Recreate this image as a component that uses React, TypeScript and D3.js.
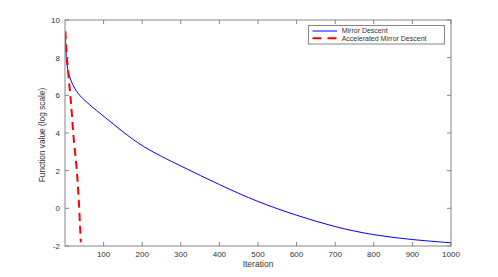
import React from "react";
import * as d3 from "d3";

const mdIter = [1, 2, 3, 5, 10, 20, 30, 40, 50, 75, 100, 150, 200, 250, 300, 400, 500, 600, 700, 800, 900, 1000];
const mdValue = [9.3, 8.5, 8.1, 7.6, 7.05, 6.55, 6.2, 5.95, 5.75, 5.3, 4.9, 4.05, 3.3, 2.75, 2.25, 1.25, 0.33, -0.38, -1.0, -1.43, -1.67, -1.83];
const amdIter = [1, 3, 5, 10, 14, 18, 21, 26, 31, 34, 37, 39, 41];
const amdValue = [9.4, 8.6, 8.0, 6.8, 6.0, 5.0, 4.0, 3.0, 2.0, 1.0, 0.0, -1.0, -1.8];
const xTicks = [100, 200, 300, 400, 500, 600, 700, 800, 900, 1000];
const yTicks = [-2, 0, 2, 4, 6, 8, 10];
const seriesNames = ["Mirror Descent", "Accelerated Mirror Descent"];

export default function App() {
  const W = 498, H = 277;
  const L = 65, T = 20, R = 451, B = 246;
  const x = d3.scaleLinear().domain([0, 1000]).range([L, R]);
  const y = d3.scaleLinear().domain([-2, 10]).range([B, T]);
  const line = d3.line<[number, number]>().x(d => x(d[0])).y(d => y(d[1])).curve(d3.curveBasis);
  const md = mdIter.map((v, i) => [v, mdValue[i]] as [number, number]);
  const amd = amdIter.map((v, i) => [v, amdValue[i]] as [number, number]);
  const axisColor = "#858585";
  const textColor = "#333";
  const font = "'Liberation Sans', Arial, sans-serif";
  const tl = 4;
  return (
    <svg width={W} height={H} style={{ position: "absolute", left: 0, top: 0 }} fontFamily={font}>
      <rect x={0} y={0} width={W} height={H} fill="#fff" />
      <defs>
        <clipPath id="clip"><rect x={L} y={T} width={R - L} height={B - T} /></clipPath>
      </defs>
      <g clipPath="url(#clip)">
        <path d={line(md) || ""} fill="none" stroke="#0000ff" strokeWidth={1} />
        <path d={line(amd) || ""} fill="none" stroke="#ff0000" strokeWidth={2} strokeDasharray="8,5" />
      </g>
      <rect x={L} y={T} width={R - L} height={B - T} fill="none" stroke={axisColor} strokeWidth={1} />
      {xTicks.map(t => (
        <g key={"x" + t}>
          <line x1={x(t)} x2={x(t)} y1={B} y2={B - tl} stroke={axisColor} />
          <line x1={x(t)} x2={x(t)} y1={T} y2={T + tl} stroke={axisColor} />
          <text x={x(t)} y={257} fontSize={8} textAnchor="middle" fill={textColor}>{t}</text>
        </g>
      ))}
      {yTicks.map(t => (
        <g key={"y" + t}>
          <line x1={L} x2={L + tl} y1={y(t)} y2={y(t)} stroke={axisColor} />
          <line x1={R} x2={R - tl} y1={y(t)} y2={y(t)} stroke={axisColor} />
          <text x={60} y={y(t) + 3} fontSize={8} textAnchor="end" fill={textColor}>{t}</text>
        </g>
      ))}
      <text x={(L + R) / 2} y={267} fontSize={8.5} textAnchor="middle" fill={textColor}>Iteration</text>
      <text transform={`translate(44.5,135) rotate(-90)`} fontSize={8.3} textAnchor="middle" fill={textColor}>Function value (log scale)</text>
      <g>
        <rect x={308.5} y={25.5} width={136} height={18.5} fill="#fff" stroke={axisColor} strokeWidth={1} />
        <line x1={312.5} x2={337} y1={31} y2={31} stroke="#0000ff" strokeWidth={1} />
        <text x={341.7} y={33.4} fontSize={7} fill={textColor}>{seriesNames[0]}</text>
        <line x1={312.5} x2={337} y1={38.2} y2={38.2} stroke="#ff0000" strokeWidth={2} strokeDasharray="9,6" />
        <text x={341.7} y={40.6} fontSize={7} fill={textColor}>{seriesNames[1]}</text>
      </g>
    </svg>
  );
}
